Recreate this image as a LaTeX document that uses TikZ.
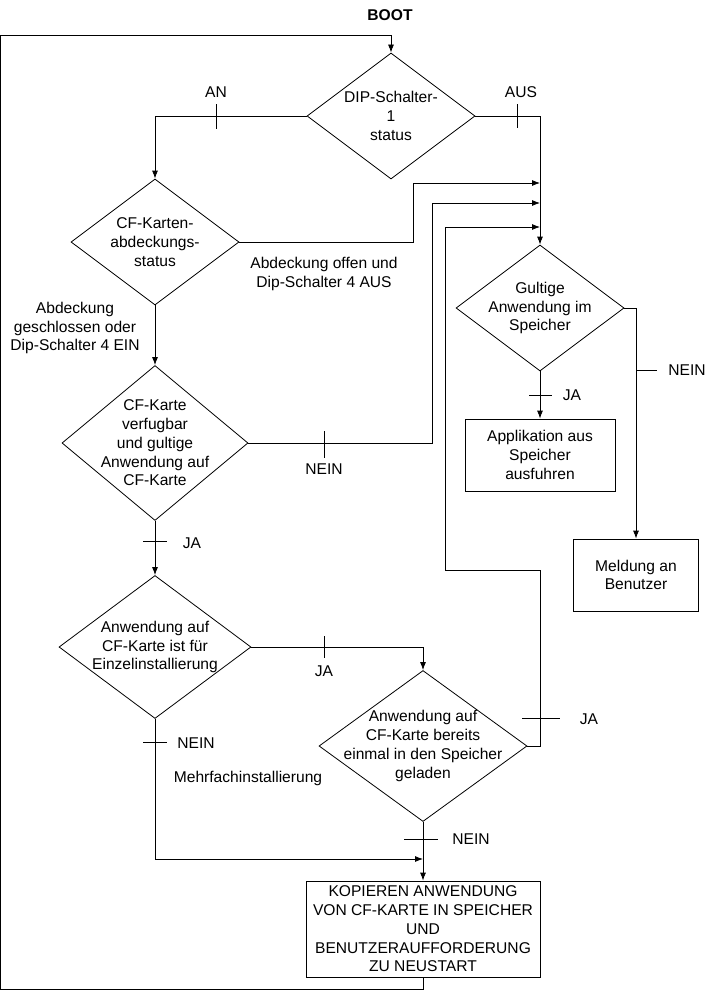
\documentclass[tikz,border=0pt]{standalone}
\usepackage{fontspec}
\setmainfont{Liberation Sans}
\usetikzlibrary{shapes.geometric,arrows.meta}
\tikzstyle{decision}=[diamond,draw,inner sep=0pt]
\tikzstyle{process}=[rectangle,draw,inner sep=0pt]
\tikzstyle{txt}=[align=center,inner sep=0pt]

\begin{document}
\begin{tikzpicture}[x=1pt,y=-1pt,line width=0.8pt,>={Latex[length=8pt,width=6pt]},
  every node/.style={font=\fontsize{15.6}{18.8}\selectfont}]
\useasboundingbox (0,0) rectangle (706,990);
\node[txt,font=\fontsize{15.6}{18.8}\selectfont\bfseries] at (390,15) (boot) {BOOT};
% decisions
\node[decision,minimum width=168,minimum height=126] at (391,116) (dip) {};
\node[txt] at (dip) (diptext) {DIP-Schalter-\\1\\status};
\node[decision,minimum width=168,minimum height=126] at (155,242) (cover) {};
\node[txt] at (cover) (covertext) {CF-Karten-\\abdeckungs-\\status};
\node[decision,minimum width=168,minimum height=126] at (540,308) (valid) {};
\node[txt] at (valid) (validtext) {Gultige\\Anwendung im\\Speicher};
\node[decision,minimum width=186,minimum height=155] at (155,443) (card) {};
\node[txt] at (card) (cardtext) {CF-Karte\\verfugbar\\und gultige\\Anwendung auf\\CF-Karte};
\node[decision,minimum width=192,minimum height=143] at (155,647) (single) {};
\node[txt] at (single) (singletext) {Anwendung auf\\CF-Karte ist für\\Einzelinstallierung};
\node[decision,minimum width=208,minimum height=151] at (423,746) (loaded) {};
\node[txt] at (loaded) (loadedtext) {Anwendung auf\\CF-Karte bereits\\einmal in den Speicher\\geladen};
% boxes
\node[process,txt,minimum width=150,minimum height=72] at (540,455) (run) {Applikation aus\\Speicher\\ausfuhren};
\node[process,txt,minimum width=125,minimum height=72] at (636,575) (msg) {Meldung an\\Benutzer};
\node[process,txt,minimum width=234,minimum height=96] at (423,929) (copy) {KOPIEREN ANWENDUNG\\VON CF-KARTE IN SPEICHER\\UND\\BENUTZERAUFFORDERUNG\\ZU NEUSTART};
% join points
\coordinate (j1) at (540,183);
\coordinate (j2) at (540,203);
\coordinate (j3) at (540,227);
\coordinate (j4) at (423,859);
\coordinate (lb) at (0.5,989);
\coordinate (lt) at (0.5,35);
% connectors
\draw[->] (copy.south) |- (lb) -- (lt) -| (dip.north);
\draw[->] (dip.west) -| (cover.north);
\draw[->] (dip.east) -| (valid.north);
\draw[->] (cover.east) -| (413,183) -- (j1);
\draw[->] (card.east) -| (432,203) -- (j2);
\draw[->] (loaded.east) -| (540,570) -| (445,227) -- (j3);
\draw[->] (cover.south) -- (card.north);
\draw[->] (card.south) -- (single.north);
\draw[->] (single.east) -| (loaded.north);
\draw[->] (single.south) |- (j4);
\draw[->] (loaded.south) -- (copy.north);
\draw[->] (valid.south) -- (run.north);
\draw[->] (valid.east) -| (msg.north);
% ticks
\draw (216,104) -- (216,129);
\draw (517,104) -- (517,128);
\draw (324,431) -- (324,458);
\draw (143,541) -- (167,541);
\draw (324,636) -- (324,658);
\draw (143,742) -- (167,742);
\draw (522,718) -- (560,718);
\draw (404,839) -- (438,839);
\draw (529,395) -- (552,395);
\draw (636,370) -- (657,370);
% labels
\node[txt] at (216,92) (an) {AN};
\node[txt] at (521,92) (aus) {AUS};
\node[txt] at (324,274) (open) {Abdeckung offen und\\Dip-Schalter 4 AUS};
\node[txt] at (75,328) (closed) {Abdeckung\\geschlossen oder\\Dip-Schalter 4 EIN};
\node[txt] at (324,469) (nein1) {NEIN};
\node[txt] at (572,395) (ja1) {JA};
\node[txt] at (687,370) (nein2) {NEIN};
\node[txt] at (192,543) (ja2) {JA};
\node[txt] at (324,671) (ja3) {JA};
\node[txt] at (589,719) (ja4) {JA};
\node[txt] at (196,743) (nein3) {NEIN};
\node[txt] at (248,778) (multi) {Mehrfachinstallierung};
\node[txt] at (471,839) (nein4) {NEIN};
\end{tikzpicture}
\end{document}
